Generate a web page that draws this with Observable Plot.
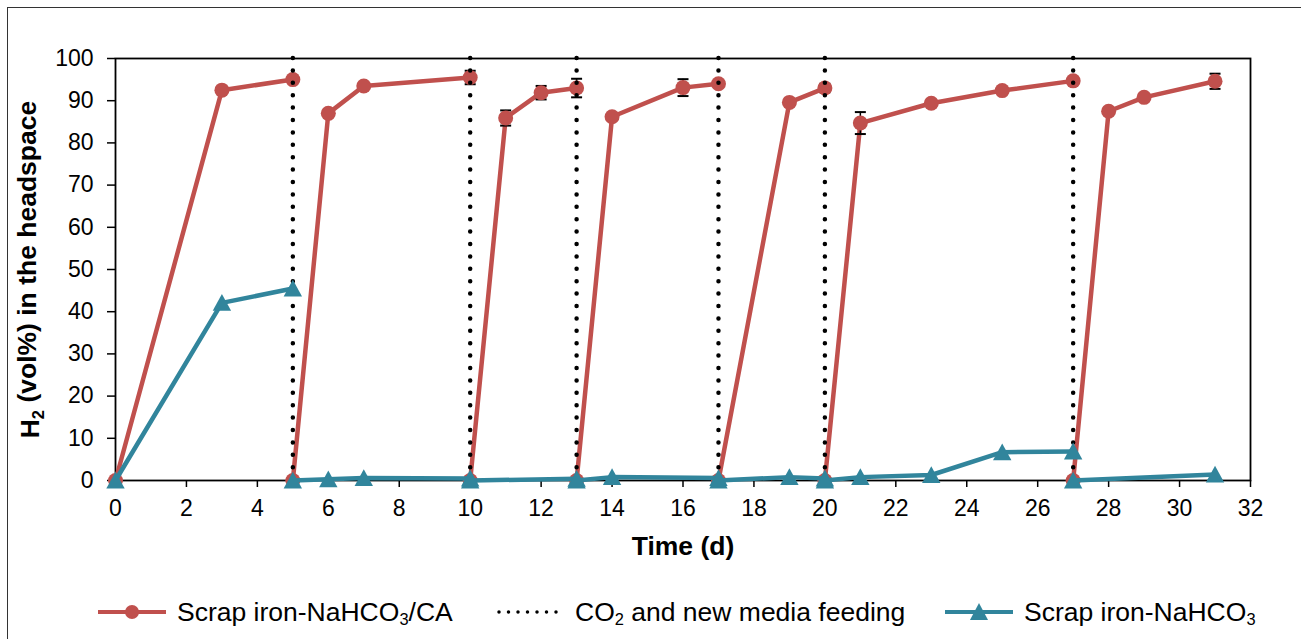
<!DOCTYPE html>
<html>
<head>
<meta charset="utf-8">
<script src="https://cdn.jsdelivr.net/npm/d3@7"></script>
<script src="https://cdn.jsdelivr.net/npm/@observablehq/plot@0.6"></script>
<style>
  html, body { margin: 0; padding: 0; background: #fff; overflow: hidden; }
  body { width: 1301px; height: 639px; position: relative; font-family: "Liberation Sans", Arial, sans-serif; }
  #border { position: absolute; left: 7px; top: 7px; width: 1400px; height: 700px; border-left: 1.5px solid #333; border-top: 1.5px solid #333; }
  #chart { position: absolute; left: 0; top: 0; }
  .leg { position: absolute; top: 597px; height: 30px; display: flex; align-items: center; font-size: 26.5px; color: #000; white-space: nowrap; }
  .leg svg { margin-right: 10px; }
  .leg sub { font-size: 0.62em; vertical-align: -0.25em; line-height: 0; }
</style>
</head>
<body>
<div id="border"></div>
<div id="chart"></div>
<div class="leg" style="left:97px"><svg width="70" height="20"><line x1="1" y1="10" x2="69" y2="10" stroke="#C0504D" stroke-width="4"/><circle cx="35" cy="10" r="7" fill="#C0504D"/></svg><span>Scrap iron-NaHCO<sub>3</sub>/CA</span></div>
<div class="leg" style="left:495px"><svg width="70" height="20"><line x1="4" y1="10" x2="66" y2="10" stroke="#000" stroke-width="3.5" stroke-dasharray="0 9.5" stroke-linecap="round"/></svg><span>CO<sub>2</sub> and new media feeding</span></div>
<div class="leg" style="left:944px"><svg width="70" height="20"><line x1="1" y1="10" x2="69" y2="10" stroke="#31859C" stroke-width="4"/><path d="M35,1 L44,18 L26,18 Z" fill="#31859C"/></svg><span>Scrap iron-NaHCO<sub>3</sub></span></div>
<script>
// ---- data ----
// each feeding cycle is a separate segment of the line
const caCycle = [0, 0, 0, 1, 1, 1, 1, 2, 2, 2, 2, 3, 3, 3, 3, 4, 4, 4, 5, 5, 5, 5, 5, 6, 6, 6, 6];
const caTime  = [0, 3, 5, 5, 6, 7, 10, 10, 11, 12, 13, 13, 14, 16, 17, 17, 19, 20, 20, 21, 23, 25, 27, 27, 28, 29, 31];
const caValue = [0, 92.5, 95, 0, 87, 93.5, 95.5, 0, 85.9, 91.9, 93, 0, 86.2, 93.1, 94, 0, 89.6, 93, 0, 84.7, 89.4, 92.4, 94.7, 0, 87.5, 90.8, 94.6];

const errTime  = [10, 11, 12, 13, 16, 20, 21, 29, 31];
const errMean  = [95.5, 85.9, 91.9, 93, 93.1, 93, 84.7, 90.8, 94.6];
const errSize  = [1.6, 1.8, 1.6, 2.2, 2.0, 1.0, 2.6, 0.8, 1.8];

const nCycle = [0, 0, 0, 1, 1, 1, 1, 2, 2, 3, 3, 3, 4, 4, 4, 5, 5, 5, 5, 5, 6, 6];
const nTime  = [0, 3, 5, 5, 6, 7, 10, 10, 13, 13, 14, 17, 17, 19, 20, 20, 21, 23, 25, 27, 27, 31];
const nValue = [0, 42.1, 45.5, 0, 0.3, 0.6, 0.5, 0, 0.4, 0, 0.8, 0.6, 0, 0.8, 0.5, 0, 0.8, 1.3, 6.7, 6.9, 0, 1.4];

const feedingTimes = [5, 10, 13, 17, 20, 27];

const xTickValues = [0, 2, 4, 6, 8, 10, 12, 14, 16, 18, 20, 22, 24, 26, 28, 30, 32];
const yTickValues = [0, 10, 20, 30, 40, 50, 60, 70, 80, 90, 100];

const xTitle = "Time (d)";
const yTitle = "H2 (vol%) in the headspace";

// ---- build tables ----
const RED = "#C0504D", TEAL = "#31859C";
const ca = caTime.map((t, i) => ({t, v: caValue[i], c: caCycle[i]}));
const nh = nTime.map((t, i) => ({t, v: nValue[i], c: nCycle[i]}));
const err = errTime.map((t, i) => ({t, lo: errMean[i] - errSize[i], hi: errMean[i] + errSize[i]}));

const capSymbol = {draw(ctx, size) { const r = Math.sqrt(size / Math.PI); ctx.moveTo(-r, 0); ctx.lineTo(r, 0); }};
const triSymbol = {draw(ctx, size) { const r = Math.sqrt(size / Math.PI); ctx.moveTo(0, -r * 1.1); ctx.lineTo(r * 1.15, r); ctx.lineTo(-r * 1.15, r); ctx.closePath(); }};

const chart = Plot.plot({
  width: 1301,
  height: 590,
  marginTop: 58,
  marginLeft: 115,
  marginRight: 51,
  marginBottom: 110,
  x: {domain: [0, 32], ticks: xTickValues, label: null},
  y: {domain: [0, 100], ticks: yTickValues, label: null},
  style: {fontFamily: "'Liberation Sans', Arial, sans-serif", fontSize: "23px", color: "#000", background: "transparent", overflow: "visible"},
  marks: [
    Plot.axisX({ticks: xTickValues, tickSize: 7, tickPadding: 12, fontSize: 23, label: null, strokeWidth: 1.5, stroke: "#000"}),
    Plot.axisY({ticks: yTickValues, tickSize: 8, tickPadding: 14, fontSize: 23, label: null, strokeWidth: 1.5, stroke: "#000"}),
    Plot.frame({stroke: "#000", strokeWidth: 1.8}),
    Plot.line(ca, {x: "t", y: "v", z: "c", stroke: RED, strokeWidth: 4.5, curve: "linear"}),
    Plot.ruleX(err, {x: "t", y1: "lo", y2: "hi", stroke: "#000", strokeWidth: 1.5}),
    Plot.dot(err, {x: "t", y: "lo", symbol: capSymbol, r: 5.5, stroke: "#000", strokeWidth: 2}),
    Plot.dot(err, {x: "t", y: "hi", symbol: capSymbol, r: 5.5, stroke: "#000", strokeWidth: 2}),
    Plot.dot(ca, {x: "t", y: "v", r: 7.5, fill: RED, stroke: null}),
    Plot.ruleX(feedingTimes, {x: d => d, y1: () => 100, y2: () => 0, stroke: "#000", strokeWidth: 4.5, strokeDasharray: "0 12.4", strokeLinecap: "round"}),
    Plot.line(nh, {x: "t", y: "v", z: "c", stroke: TEAL, strokeWidth: 4.5}),
    Plot.dot(nh, {x: "t", y: "v", r: 8, symbol: triSymbol, fill: TEAL, stroke: null}),
    Plot.text([xTitle], {frameAnchor: "bottom", dy: 74, fontWeight: "bold", fontSize: 26.5, fill: "#000"}),
    Plot.text([yTitle], {frameAnchor: "left", textAnchor: "middle", dx: -85, rotate: -90, fontWeight: "bold", fontSize: 26.5, fill: "#000"})
  ]
});
document.getElementById("chart").appendChild(chart);

// subscript in y title
d3.select(chart).selectAll("text").each(function() {
  if (this.textContent === yTitle) {
    const t = d3.select(this);
    t.text(null);
    t.append("tspan").text("H");
    t.append("tspan").attr("font-size", "0.62em").attr("dy", "0.3em").text("2");
    t.append("tspan").attr("dy", "-0.3em").text(" (vol%) in the headspace");
  }
});
</script>
</body>
</html>
